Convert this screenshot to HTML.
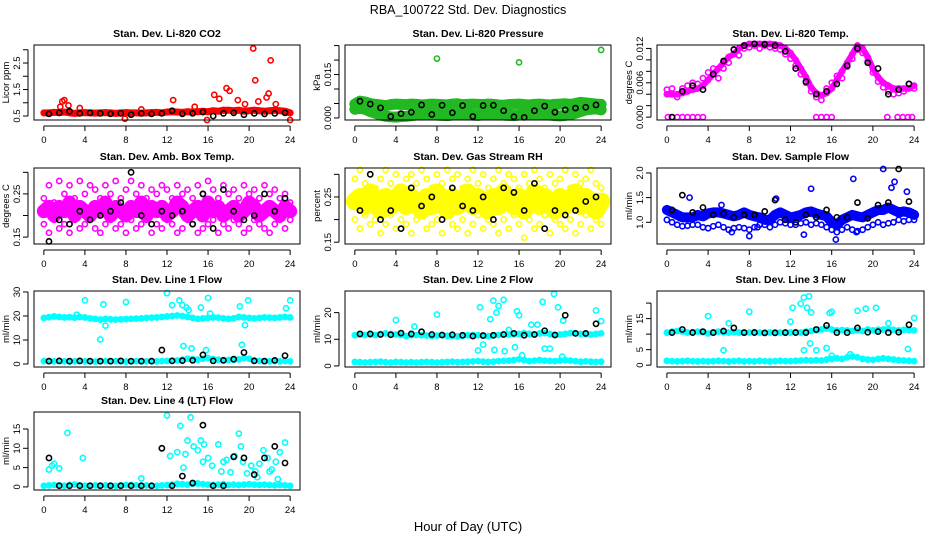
<!DOCTYPE html>
<html><head><meta charset="utf-8"><style>
html,body{margin:0;padding:0;background:#fff;}
svg{display:block;font-family:"Liberation Sans",sans-serif;}
</style></head><body>
<svg id="chart" width="936" height="540" viewBox="0 0 936 540" xmlns="http://www.w3.org/2000/svg">
<text x="468" y="14" text-anchor="middle" font-size="12.5">RBA_100722  Std. Dev. Diagnostics</text>
<text x="468" y="531" text-anchor="middle" font-size="13">Hour of Day (UTC)</text>
</svg>
<script>
// ---------- data (hourly black = instrument averages, colored = detail) ----------
const xTickLabels = [0,4,8,12,16,20,24];
const blackHours = [0.5,1.5,2.5,3.5,4.5,5.5,6.5,7.5,8.5,9.5,10.5,11.5,12.5,13.5,14.5,15.5,16.5,17.5,18.5,19.5,20.5,21.5,22.5,23.5];
// P1 CO2
const co2Band = [0.62,0.62,0.64,0.63,0.65,0.62,0.6,0.62,0.63,0.62,0.61,0.62,0.63,0.62,0.6,0.62,0.63,0.62,0.62,0.61,0.62,0.63,0.64,0.62,0.65,0.66,0.65,0.64,0.66,0.65,0.66,0.68,0.66,0.7,0.68,0.72,0.72,0.7,0.72,0.68,0.7,0.72,0.7,0.68,0.7,0.72,0.7,0.68,0.62];
const co2OutX = [1.8,2.0,2.4,1.6,12.6,14.7,16.6,17.1,17.8,18.1,18.9,19.6,20.4,20.6,20.9,21.7,21.9,22.1,22.6,24.0,7.9,15.9,3.5,9.5];
const co2OutY = [1.05,1.1,0.9,0.85,1.1,0.85,1.3,1.15,1.55,1.45,1.1,0.95,3.05,1.85,1.05,1.2,1.35,2.6,0.95,0.35,0.4,0.35,0.8,0.75];
const co2Black = [0.58,0.62,0.68,0.6,0.62,0.6,0.58,0.6,0.55,0.6,0.58,0.6,0.7,0.58,0.6,0.65,0.5,0.6,0.62,0.55,0.6,0.58,0.6,0.62];
// P2 Pressure
const presHigh = [0.0048,0.0058,0.0055,0.005,0.0047,0.0045,0.0042,0.0046,0.0048,0.0047,0.0046,0.0048,0.0047,0.0045,0.0046,0.0048,0.0047,0.0046,0.0045,0.0048,0.0049,0.0046,0.0047,0.0048,0.0047,0.0046,0.0048,0.0047,0.0045,0.0044,0.0046,0.0047,0.0048,0.0046,0.0045,0.0047,0.0048,0.0046,0.0045,0.0047,0.0048,0.0049,0.0047,0.005,0.0054,0.0052,0.005,0.0048,0.0047];
const presLow = [0.003,0.0035,0.003,0.0022,0.0016,0.001,0.0006,0.0004,0.0003,0.0005,0.0006,0.0008,0.001,0.0012,0.0014,0.0012,0.001,0.0009,0.0008,0.001,0.0012,0.0013,0.0011,0.001,0.0009,0.0011,0.0012,0.0013,0.0012,0.001,0.0009,0.0008,0.001,0.0012,0.0014,0.0013,0.0012,0.0011,0.001,0.0008,0.0007,0.0009,0.0012,0.0016,0.0022,0.0028,0.003,0.0032,0.0028];
const presOutX = [8.0,16.0,24.0];
const presOutY = [0.0205,0.0192,0.0235];
const presBlack = [0.0058,0.0048,0.0035,0.0005,0.0015,0.002,0.0045,0.0012,0.0044,0.0018,0.0043,0.0005,0.0043,0.0044,0.0025,0.0004,0.0002,0.0025,0.0041,0.002,0.0028,0.0034,0.0037,0.0045];
// P3 Temp
const tempBand = [0.004,0.004,0.004,0.0042,0.0045,0.0048,0.005,0.0055,0.0065,0.0075,0.0085,0.0095,0.0105,0.011,0.012,0.0125,0.0128,0.0128,0.0128,0.0128,0.0128,0.0127,0.0125,0.012,0.0112,0.01,0.0085,0.007,0.0052,0.0042,0.0038,0.0042,0.005,0.0065,0.008,0.0095,0.011,0.0125,0.012,0.0105,0.0085,0.007,0.006,0.0055,0.005,0.005,0.005,0.005,0.0055];
const tempScatter = [0.0048,0.005,0.0035,0.005,0.0055,0.006,0.0058,0.0068,0.0078,0.0085,0.0068,0.0085,0.0095,0.0118,0.0108,0.012,0.0122,0.0125,0.012,0.0125,0.0122,0.012,0.0118,0.011,0.0102,0.009,0.0075,0.006,0.0045,0.0035,0.003,0.005,0.006,0.0072,0.0068,0.0088,0.0102,0.0118,0.0112,0.0098,0.0078,0.0062,0.0052,0.0045,0.004,0.0042,0.0045,0.0058,0.005];
const tempZeroX = [0.1,0.5,1.0,1.5,2.0,2.5,3.0,3.5,14.5,15.0,15.5,16.0,21.4,22.4,22.9,23.4,23.8];
const tempZeroY = [0,0,0,0,0,0,0,0,0,0,0,0,0,0,0,0,0];
const tempBlack = [0,0.0045,0.0055,0.0048,0.0075,0.0098,0.0118,0.0125,0.0128,0.0127,0.0125,0.0115,0.0085,0.0062,0.004,0.0045,0.0058,0.009,0.012,0.0095,0.0085,0.004,0.0048,0.0058];
// P4 Amb Box
const ambA = [0.24,0.27,0.23,0.28,0.25,0.27,0.24,0.28,0.25,0.27,0.26,0.24,0.27,0.25,0.28,0.24,0.26,0.28,0.25,0.27,0.24,0.26,0.25,0.27,0.26,0.24,0.27,0.25,0.26,0.24,0.27,0.25,0.28,0.26,0.24,0.27,0.25,0.26,0.24,0.27,0.25,0.26,0.24,0.27,0.25,0.26,0.24,0.25,0.23];
const ambB = [0.21,0.22,0.2,0.22,0.21,0.23,0.2,0.22,0.21,0.2,0.22,0.21,0.23,0.2,0.22,0.21,0.2,0.22,0.21,0.23,0.2,0.22,0.21,0.22,0.2,0.21,0.23,0.22,0.2,0.21,0.22,0.2,0.23,0.21,0.22,0.2,0.21,0.22,0.2,0.21,0.23,0.22,0.2,0.21,0.22,0.21,0.2,0.22,0.21];
const ambC = [0.18,0.16,0.19,0.17,0.18,0.16,0.19,0.17,0.18,0.19,0.17,0.16,0.18,0.19,0.17,0.18,0.16,0.19,0.17,0.18,0.19,0.16,0.18,0.17,0.19,0.18,0.16,0.17,0.19,0.18,0.16,0.17,0.18,0.19,0.16,0.18,0.17,0.19,0.18,0.16,0.17,0.19,0.18,0.17,0.16,0.18,0.19,0.17,0.19];
const ambBlack = [0.14,0.19,0.18,0.21,0.19,0.2,0.21,0.23,0.3,0.2,0.18,0.21,0.2,0.21,0.18,0.25,0.17,0.26,0.21,0.19,0.2,0.25,0.21,0.24];
// P5 RH
const rhA = [0.29,0.31,0.28,0.3,0.27,0.29,0.31,0.28,0.3,0.27,0.29,0.3,0.28,0.31,0.29,0.27,0.3,0.28,0.31,0.29,0.3,0.27,0.29,0.31,0.28,0.3,0.27,0.29,0.31,0.28,0.3,0.29,0.27,0.3,0.28,0.31,0.29,0.27,0.3,0.28,0.29,0.31,0.27,0.3,0.28,0.29,0.31,0.28,0.27];
const rhB = [0.24,0.25,0.23,0.26,0.24,0.22,0.25,0.23,0.24,0.26,0.23,0.25,0.24,0.22,0.25,0.23,0.26,0.24,0.22,0.25,0.23,0.24,0.26,0.23,0.25,0.24,0.22,0.25,0.23,0.26,0.24,0.23,0.25,0.22,0.24,0.26,0.23,0.25,0.24,0.22,0.25,0.23,0.24,0.26,0.23,0.25,0.24,0.22,0.24];
const rhC = [0.2,0.18,0.21,0.19,0.2,0.17,0.19,0.21,0.18,0.2,0.19,0.17,0.2,0.21,0.18,0.19,0.2,0.17,0.21,0.19,0.18,0.2,0.17,0.19,0.21,0.18,0.2,0.19,0.17,0.2,0.18,0.21,0.19,0.16,0.2,0.18,0.19,0.21,0.17,0.2,0.19,0.18,0.2,0.17,0.19,0.21,0.18,0.2,0.19];
const rhBlack = [0.22,0.3,0.2,0.22,0.18,0.27,0.23,0.25,0.2,0.27,0.23,0.22,0.25,0.2,0.27,0.26,0.22,0.28,0.18,0.22,0.21,0.22,0.24,0.25];
// P6 Sample flow
const flowBand = [1.25,1.2,1.15,1.1,1.1,1.1,1.15,1.12,1.18,1.2,1.2,1.18,1.15,1.12,1.15,1.2,1.15,1.12,1.1,1.05,1.05,1.15,1.2,1.15,1.1,1.12,1.15,1.2,1.22,1.18,1.15,1.12,1.0,0.95,1.05,1.1,1.15,1.12,1.1,1.15,1.2,1.25,1.25,1.3,1.25,1.2,1.22,1.2,1.15];
const flowLow = [1.05,1.0,0.95,0.92,0.93,0.95,0.95,0.9,0.88,0.92,0.95,0.9,0.85,0.88,0.9,0.88,0.85,0.9,0.95,0.95,0.9,0.95,1.0,0.98,0.95,0.95,0.98,1.0,0.95,0.98,0.95,0.9,0.85,0.8,0.85,0.9,0.85,0.82,0.85,0.9,0.95,1.0,0.95,0.98,1.0,1.05,1.02,1.05,1.05];
const flowOutX = [2.2,5.3,8.0,10.6,14.0,16.4,18.1,18.4,21.0,21.8,22.1,23.3,13.3,6.3,8.8];
const flowOutY = [1.5,1.35,0.72,1.48,1.68,0.65,1.88,0.8,2.08,1.7,1.82,1.62,0.75,0.8,0.9];
const flowBlack = [1.25,1.55,1.2,1.3,1.15,1.18,1.1,1.15,1.15,1.22,1.45,1.05,1.0,1.15,1.1,1.25,1.1,1.1,1.4,1.08,1.35,1.4,2.08,1.42];
// P7 Line 1
const l1High = [19.2,19.5,19.8,19.6,19.4,19.5,19.3,19.6,19.4,19.0,18.8,18.5,18.8,18.6,18.5,18.6,18.7,18.8,18.9,19.0,19.2,19.3,19.4,19.6,19.8,20.0,20.2,20.0,19.6,19.2,18.8,19.0,19.2,19.4,19.3,19.0,18.8,19.0,19.6,19.4,19.2,19.0,19.2,19.4,19.3,19.2,19.4,19.6,19.4];
const l1Low = [1.2,1.2,1.1,1.2,1.1,1.0,1.1,1.2,1.1,1.1,1.0,1.1,1.2,1.1,1.2,1.1,1.0,1.1,1.2,1.1,1.1,1.2,1.1,1.2,1.3,1.4,1.5,1.8,2.2,2.0,1.8,2.2,2.5,2.0,1.8,1.6,1.7,1.8,1.9,2.5,2.2,1.5,1.3,1.2,1.1,1.2,1.1,1.2,1.1];
const l1OutX = [4.0,5.8,5.5,8.0,3.2,12.0,12.5,13.2,13.5,13.9,14.1,15.3,16.0,16.2,19.1,19.6,19.9,23.6,24.0,13.6,14.4,15.8,19.3,6.0];
const l1OutY = [26.5,24.8,10.2,25.8,20.5,29.5,24.5,26.5,24.5,23.5,22.5,23.5,27.5,21.0,24.0,16.2,26.5,23.2,26.5,7.5,6.5,5.8,8.0,16.0];
const l1Black = [1.2,1.3,1.2,1.3,1.2,1.2,1.2,1.3,1.2,1.2,1.2,5.8,1.3,1.4,1.5,3.8,1.3,1.5,2.0,4.8,1.3,1.2,1.5,3.5];
// P8 Line 2
const l2High = [11.5,11.8,11.6,11.8,11.6,11.9,12.2,12.0,11.8,11.6,11.2,11.5,11.6,11.5,11.4,11.2,11.4,11.5,11.3,11.2,11.1,11.3,11.5,11.6,11.5,11.3,11.2,11.4,11.6,11.8,11.8,11.9,12.0,12.3,12.0,11.8,12.2,12.3,12.0,11.6,11.8,12.0,12.3,12.2,12.0,11.9,11.8,12.0,12.2];
const l2Low = [1.5,1.4,1.3,1.4,1.5,1.6,1.4,1.3,1.5,1.4,1.3,1.4,1.3,1.4,1.5,1.4,1.3,1.4,1.5,1.6,1.4,1.5,1.6,1.7,1.8,1.6,1.5,1.6,1.8,1.9,2.0,2.2,2.5,2.2,1.8,2.0,2.2,2.0,1.9,1.8,2.0,2.2,2.0,1.8,1.6,1.7,1.6,1.5,1.6];
const l2OutX = [4.0,8.0,12.2,12.5,13.2,13.5,13.8,14.0,14.5,15.0,15.8,16.0,16.3,17.2,17.8,18.3,19.0,19.4,19.8,20.2,23.5,24.0,12.0,13.6,14.6,15.6,18.5,20.3,5.8];
const l2OutY = [17.2,19.3,22.0,8.0,17.5,24.5,20.0,22.5,24.8,13.5,20.5,19.0,4.0,15.5,15.5,24.0,6.5,27.0,22.0,3.5,20.8,16.8,5.8,6.0,5.5,7.0,6.5,17.0,14.8];
const l2Black = [12.0,12.0,11.8,11.7,12.3,12.0,12.8,11.8,11.6,11.7,11.5,11.2,11.4,11.5,11.8,12.2,11.5,11.8,13.2,11.6,19.0,12.2,12.2,15.8];
// P9 Line 3
const l3High = [10.5,10.8,11.0,10.8,10.5,10.6,10.8,10.6,10.2,10.5,10.8,10.6,10.5,10.6,10.5,10.4,10.5,10.6,10.5,10.4,10.5,10.6,10.5,10.4,10.5,10.6,10.5,10.8,11.0,11.2,11.5,11.8,11.5,11.2,11.3,11.2,11.0,11.2,11.0,11.5,11.2,11.4,11.5,11.6,11.4,11.2,11.4,11.3,11.2];
const l3Low = [1.4,1.3,1.2,1.3,1.4,1.3,1.2,1.3,1.2,1.3,1.4,1.3,1.2,1.3,1.4,1.2,1.3,1.2,1.4,1.3,1.2,1.3,1.4,1.3,1.3,1.4,1.5,1.6,1.5,1.6,1.5,1.8,2.0,2.2,2.0,2.5,2.8,2.5,2.0,1.8,1.7,2.0,2.2,2.0,1.8,1.6,1.5,1.4,1.3];
const l3OutX = [4.0,8.0,5.5,6.0,12.0,12.2,13.0,13.3,13.6,13.8,14.0,15.8,16.0,18.5,19.3,20.3,21.5,23.4,24.0,13.3,13.9,14.5,15.5,16.0,17.8];
const l3OutY = [15.8,17.2,4.8,13.5,14.0,18.5,19.8,21.8,18.5,22.2,17.0,16.8,17.2,17.5,18.2,18.5,13.5,5.2,15.2,4.8,7.0,4.8,5.5,3.0,3.5];
const l3Black = [10.5,11.5,10.5,10.8,10.5,11.0,12.0,10.5,10.5,10.4,10.4,10.5,10.5,10.5,11.5,12.8,10.5,10.5,12.0,10.6,10.8,10.5,10.6,13.0];
// P10 Line 4
const l4Band = [0.3,0.4,0.5,0.4,0.3,0.5,0.6,0.4,0.3,0.3,0.4,0.3,0.4,0.3,0.3,0.4,0.5,0.5,0.4,0.3,0.4,0.3,0.3,0.4,0.5,0.6,0.8,0.7,0.6,0.8,0.9,0.7,0.6,0.5,0.6,0.7,0.5,0.6,0.5,0.6,0.7,0.6,0.5,0.6,0.5,0.4,0.5,0.4,0.3];
const l4OutX = [0.5,0.8,1.0,1.5,2.3,3.8,9.5,12.0,12.3,13.0,13.3,13.6,14.0,14.3,14.6,15.0,15.3,15.6,16.0,16.4,17.0,17.3,17.8,18.2,18.6,19.0,19.4,19.8,20.2,20.6,21.0,21.4,21.8,22.2,22.6,23.0,23.5,13.8,15.5,17.5,19.2,20.8,22.0,22.8];
const l4OutY = [4.5,5.5,6.0,4.8,14.0,7.5,2.2,18.5,8.0,9.0,15.8,5.0,12.0,18.0,10.5,9.5,12.0,11.0,7.5,5.5,11.0,4.0,7.0,3.8,8.0,13.8,6.5,3.5,5.5,4.0,6.0,9.5,7.5,4.5,6.5,9.0,11.5,8.5,6.5,6.5,10.5,2.5,4.0,2.0];
const l4Black = [7.5,0.3,0.3,0.3,0.3,0.3,0.3,0.3,0.3,0.3,0.3,10.0,0.3,2.8,1.0,16.0,0.3,0.3,7.8,7.5,3.2,7.5,10.5,6.2];

// ---------- drawing ----------
const svg = document.getElementById('chart');
const NS = 'http://www.w3.org/2000/svg';
const XLIM = [-0.96, 24.96];
const COLS = [[34,300],[345,611],[657,924]];
const ROWS = [[45,120],[168,244],[291,367],[412,490]];
function mk(tag, attrs, parent){const e=document.createElementNS(NS,tag);for(const k in attrs)e.setAttribute(k,attrs[k]);(parent||svg).appendChild(e);return e;}
function panel(col,row,ylim,yticks,ylabels,title,ylab,name){
  const [x0,x1]=COLS[col],[y0,y1]=ROWS[row];
  const g=mk('g',{});
  
  
  const P={g,sx:v=>x0+(v-XLIM[0])/(XLIM[1]-XLIM[0])*(x1-x0),sy:v=>y1-(v-ylim[0])/(ylim[1]-ylim[0])*(y1-y0)};
  const t=mk('text',{x:(x0+x1)/2,y:y0-8,'text-anchor':'middle','font-size':'10.5','font-weight':'bold'},g);
  t.textContent=title;
  
  
  const yl=mk('text',{x:0,y:0,'text-anchor':'middle','font-size':'9.5',transform:`translate(${x0-25},${(y0+y1)/2}) rotate(-90)`},g);
  yl.textContent=ylab;
  
  
  P.plot=mk('g',{},g);
  const box=mk('rect',{x:x0,y:y0,width:x1-x0,height:y1-y0,fill:'none',stroke:'#000','stroke-width':1},g);
  
  
  mk('line',{x1:P.sx(0),x2:P.sx(24),y1:y1+6,y2:y1+6,stroke:'#000'},g);
  xTickLabels.forEach(v=>{
    mk('line',{x1:P.sx(v),x2:P.sx(v),y1:y1+6,y2:y1+11,stroke:'#000'},g);
    const tl=mk('text',{x:P.sx(v),y:y1+23,'text-anchor':'middle','font-size':'9.5'},g);tl.textContent=v;
    
    
  });
  mk('line',{x1:x0-6,x2:x0-6,y1:P.sy(yticks[0]),y2:P.sy(yticks[yticks.length-1]),stroke:'#000'},g);
  yticks.forEach((v,i)=>{
    mk('line',{x1:x0-11,x2:x0-6,y1:P.sy(v),y2:P.sy(v),stroke:'#000'},g);
    if(ylabels[i]){const tl=mk('text',{x:0,y:0,'text-anchor':'middle','font-size':'9.5',transform:`translate(${x0-14},${P.sy(v)}) rotate(-90)`},g);tl.textContent=ylabels[i];
    
    }
  });
  return P;
}
function band(P,vals,color,w){
  const pts=vals.map((v,i)=>P.sx(i*0.5)+','+P.sy(v)).join(' ');
  const l=mk('polyline',{points:pts,fill:'none',stroke:color,'stroke-width':w,'stroke-linejoin':'round','stroke-linecap':'round'},P.plot);
  
  
  vals.forEach((v,i)=>{const c=mk('circle',{cx:P.sx(i*0.5),cy:P.sy(v),r:2.6,fill:'none',stroke:color,'stroke-width':1.6},P.plot);
    
    });
}
function pts(P,xs,ys,color){
  xs.forEach((x,i)=>{const c=mk('circle',{cx:P.sx(x),cy:P.sy(ys[i]),r:2.6,fill:'none',stroke:color,'stroke-width':1.6},P.plot);
    
    });
}
function halfPts(P,ys,color){pts(P,ys.map((_,i)=>i*0.5),ys,color);}

let P;
P=panel(0,0,[0.35,3.18],[0.5,1,1.5,2,2.5,3],['0.5','','1.5','','2.5',''],'Stan. Dev. Li-820 CO2','Licor ppm','co2');
band(P,co2Band,'#ff0000',7);pts(P,co2OutX,co2OutY,'#ff0000');pts(P,blackHours,co2Black,'#000');

P=panel(1,0,[-0.0007,0.0252],[0,0.005,0.01,0.015,0.02,0.025],['0.000','','','0.015','',''],'Stan. Dev. Li-820 Pressure','kPa','pressure');
band(P,presHigh,'#22b822',11);band(P,presLow,'#22b822',11);pts(P,presOutX,presOutY,'#22b822');pts(P,blackHours,presBlack,'#000');

P=panel(2,0,[-0.0005,0.0126],[0,0.002,0.004,0.006,0.008,0.01,0.012],['0.000','','','0.006','','','0.012'],'Stan. Dev. Li-820 Temp.','degrees C','temp');
band(P,tempBand,'#ff00ff',6);halfPts(P,tempScatter,'#ff00ff');pts(P,tempZeroX,tempZeroY,'#ff00ff');pts(P,blackHours,tempBlack,'#000');

P=panel(0,1,[0.134,0.31],[0.15,0.2,0.25,0.3],['0.15','','0.25',''],'Stan. Dev. Amb. Box Temp.','degrees C','amb-box');
halfPts(P,ambA,'#ff00ff');halfPts(P,ambC,'#ff00ff');
band(P,ambB,'#ff00ff',14);pts(P,blackHours,ambBlack,'#000');

P=panel(1,1,[0.146,0.314],[0.15,0.2,0.25,0.3],['0.15','','0.25',''],'Stan. Dev. Gas Stream RH','percent','rh');
halfPts(P,rhA,'#ffff00');halfPts(P,rhC,'#ffff00');band(P,rhB,'#ffff00',18);pts(P,blackHours,rhBlack,'#000');

P=panel(2,1,[0.56,2.1],[1,1.5,2],['1.0','1.5','2.0'],'Stan. Dev. Sample Flow','ml/min','sample-flow');
band(P,flowBand,'#0000ff',10);halfPts(P,flowLow,'#0000ff');pts(P,flowOutX,flowOutY,'#0000ff');pts(P,blackHours,flowBlack,'#000');

P=panel(0,2,[-1.25,30.4],[0,10,20,30],['0','10','20','30'],'Stan. Dev. Line 1 Flow','ml/min','line1');
band(P,l1High,'#00ffff',5);band(P,l1Low,'#00ffff',4);pts(P,l1OutX,l1OutY,'#00ffff');pts(P,blackHours,l1Black,'#000');

P=panel(1,2,[-0.4,28.1],[0,10,20],['0','10','20'],'Stan. Dev. Line 2 Flow','ml/min','line2');
band(P,l2High,'#00ffff',5);band(P,l2Low,'#00ffff',4);pts(P,l2OutX,l2OutY,'#00ffff');pts(P,blackHours,l2Black,'#000');

P=panel(2,2,[-0.6,23.9],[0,5,10,15,20],['0','5','','15',''],'Stan. Dev. Line 3 Flow','ml/min','line3');
band(P,l3High,'#00ffff',5);band(P,l3Low,'#00ffff',4);pts(P,l3OutX,l3OutY,'#00ffff');pts(P,blackHours,l3Black,'#000');

P=panel(0,3,[-0.8,19.4],[0,5,10,15],['0','5','10','15'],'Stan. Dev. Line 4 (LT) Flow','ml/min','line4');
band(P,l4Band,'#00ffff',4);pts(P,l4OutX,l4OutY,'#00ffff');pts(P,blackHours,l4Black,'#000');
</script>
</body></html>
